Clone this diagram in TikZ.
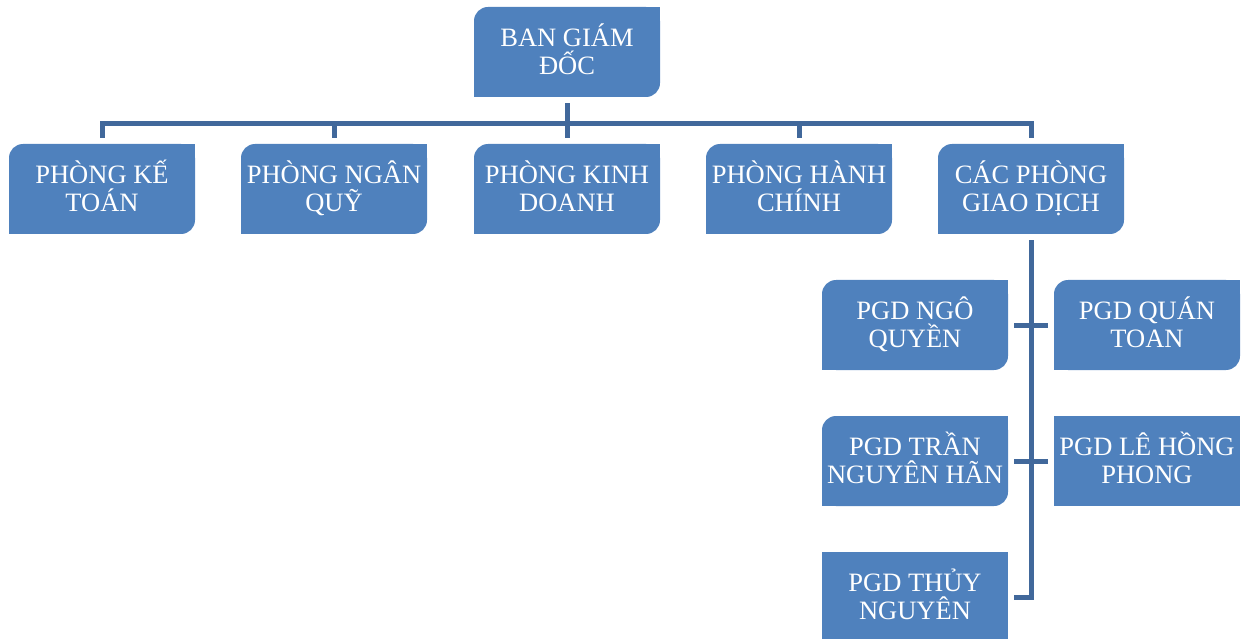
\documentclass[tikz,border=0pt]{standalone}
\usepackage{fontspec}
\setmainfont{Liberation Serif}
\definecolor{bleu}{RGB}{79,129,189}
\definecolor{bleufonce}{RGB}{65,104,155}
\tikzstyle{boite}=[fill=bleu,text=white,align=center,inner sep=0pt,minimum width=186pt,minimum height=90pt,rounded corners=14pt,text depth=6pt,font=\fontsize{26.5}{28}\selectfont]
\tikzstyle{boitecarree}=[boite,sharp corners]
\tikzstyle{lien}=[draw=bleufonce,line width=5pt,shorten <=6pt,shorten >=6pt]

\begin{document}
\begin{tikzpicture}[x=1pt,y=-1pt]
\useasboundingbox (0,0) rectangle (1243,639);
% direction
\node[boite] (bgd) at (567,52) {BAN GIÁM\\ĐỐC};
% phong ban
\node[boite] (ketoan) at (102,189) {PHÒNG KẾ\\TOÁN};
\node[boite] (nganquy) at (334,189) {PHÒNG NGÂN\\QUỸ};
\node[boite] (kinhdoanh) at (567,189) {PHÒNG KINH\\DOANH};
\node[boite] (hanhchinh) at (799,189) {PHÒNG HÀNH\\CHÍNH};
\node[boite] (giaodich) at (1031,189) {CÁC PHÒNG\\GIAO DỊCH};
% phong giao dich
\node[boite] (ngoquyen) at (915,325) {PGD NGÔ\\QUYỀN};
\node[boite] (quantoan) at (1147,325) {PGD QUÁN\\TOAN};
\node[boite] (tranhan) at (915,461) {PGD TRẦN\\NGUYÊN HÃN};
\node[boitecarree] (lehong) at (1147,461) {PGD LÊ HỒNG\\PHONG};
\node[boitecarree] (thuynguyen) at (915,597) {PGD THỦY\\NGUYÊN};
% coins carres
\foreach \n in {bgd,ketoan,nganquy,kinhdoanh,hanhchinh,giaodich,ngoquyen,quantoan,tranhan} {
\fill[bleu] (\n.north east) rectangle ++(-15pt,-15pt);
\fill[bleu] (\n.south west) rectangle ++(15pt,15pt);
}
% liens
\draw[lien] (bgd.south) -- (kinhdoanh.north);
\foreach \n in {ketoan,nganquy,hanhchinh,giaodich}
\draw[lien] (bgd.south) -- ++(0,26) -| (\n.north);
\draw[lien] (giaodich.south) |- (thuynguyen.east);
\draw[lien] (ngoquyen.east) -- (quantoan.west);
\draw[lien] (tranhan.east) -- (lehong.west);
\end{tikzpicture}
\end{document}
